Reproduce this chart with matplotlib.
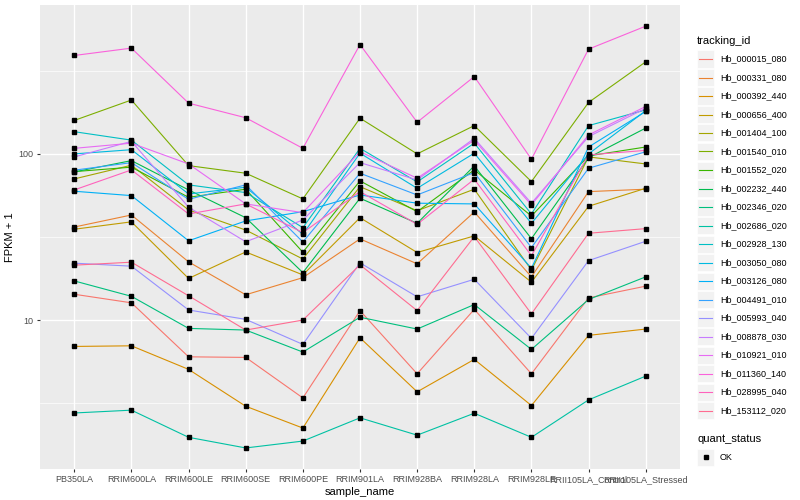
import numpy as np
import matplotlib
matplotlib.use("Agg")
import matplotlib.pyplot as plt
from matplotlib.ticker import FixedLocator, NullFormatter
from matplotlib.patches import Rectangle
from matplotlib.lines import Line2D

plt.rcParams['font.family'] = ['Liberation Sans', 'DejaVu Sans']

samples = ['PB350LA', 'RRIM600LA', 'RRIM600LE', 'RRIM600SE', 'RRIM600PE',
           'RRIM901LA', 'RRIM928BA', 'RRIM928LA', 'RRIM928LE',
           'RRII105LA_Control', 'RRII105LA_Stressed']

tracking_ids = ['Hb_000015_080', 'Hb_000331_080', 'Hb_000392_440', 'Hb_000656_400',
                'Hb_001404_100', 'Hb_001540_010', 'Hb_001552_020', 'Hb_002232_440',
                'Hb_002346_020', 'Hb_002686_020', 'Hb_002928_130', 'Hb_003050_080',
                'Hb_003126_080', 'Hb_004491_010', 'Hb_005993_040', 'Hb_008878_030',
                'Hb_010921_010', 'Hb_011360_140', 'Hb_028995_040', 'Hb_153112_020']

# FPKM + 1, one row per tracking_id, one column per sample
fpkm = [
    [14.3, 12.7, 6.01, 5.96, 3.40, 11.4, 4.75, 11.6, 4.75, 13.6, 16.0],
    [36.3, 42.9, 22.4, 14.2, 18.0, 30.8, 21.8, 44.7, 18.2, 59.3, 61.3],
    [6.94, 7.00, 5.05, 3.03, 2.24, 7.82, 3.70, 5.80, 3.06, 8.09, 8.83],
    [35.2, 39.0, 17.8, 25.7, 18.7, 41.3, 25.5, 32.1, 16.9, 48.4, 62.1],
    [70.7, 85.5, 46.0, 34.8, 23.3, 63.5, 45.5, 61.3, 20.0, 95.9, 87.0],
    [159, 211, 85.0, 76.5, 53.6, 164, 100, 148, 68.1, 204, 358],
    [78.2, 83.2, 54.8, 61.3, 25.6, 68.8, 44.9, 80.1, 42.3, 97.3, 110],
    [77.9, 91.1, 60.7, 41.3, 19.3, 54.1, 38.2, 84.7, 30.9, 95.0, 143],
    [17.2, 13.9, 8.91, 8.71, 6.42, 10.4, 8.83, 12.4, 6.66, 13.3, 18.2],
    [2.76, 2.87, 1.97, 1.70, 1.87, 2.58, 2.03, 2.75, 1.97, 3.31, 4.60],
    [136, 121, 65.1, 58.5, 36.0, 108, 67.8, 116, 43.5, 148, 184],
    [100, 106, 57.4, 63.0, 32.8, 101, 62.1, 101, 38.2, 100, 182],
    [59.6, 56.1, 30.0, 39.5, 44.9, 56.6, 50.5, 50.0, 20.5, 110, 180],
    [79.8, 88.6, 53.3, 65.1, 29.5, 76.5, 56.6, 77.2, 27.3, 82.0, 103],
    [22.0, 21.1, 11.5, 10.1, 7.14, 22.1, 13.8, 17.6, 7.76, 22.8, 29.8],
    [95.9, 119, 47.8, 29.6, 40.0, 88.6, 69.7, 124, 50.5, 127, 188],
    [108, 116, 87.0, 50.0, 44.3, 103, 71.4, 121, 49.3, 130, 193],
    [391, 433, 202, 165, 108, 455, 155, 292, 92.9, 427, 587],
    [60.7, 80.1, 43.5, 50.0, 33.6, 59.3, 37.7, 70.4, 24.4, 98.6, 105],
    [21.4, 22.3, 14.0, 8.71, 10.0, 21.5, 11.4, 31.8, 10.9, 33.3, 35.5],
]

# ggplot default hue palette for 20 groups
colors = ['#F8766D', '#EA8331', '#D89000', '#C09B00', '#A3A500', '#7CAE00',
          '#39B600', '#00BB4E', '#00BF7D', '#00C1A3', '#00BFC4', '#00BAE0',
          '#00B0F6', '#35A2FF', '#9590FF', '#C77CFF', '#E76BF3', '#FA62DB',
          '#FF62BC', '#FF6C91']

W, H = 800, 500
fig = plt.figure(figsize=(8, 5), dpi=100)
ax = fig.add_axes([40 / W, 31 / H, 640 / W, 464 / H])
ax.set_facecolor('#EBEBEB')
for s in ax.spines.values():
    s.set_visible(False)

x = np.arange(len(samples))
for vals, c in zip(fpkm, colors):
    ax.plot(x, vals, color=c, lw=0.8, zorder=3)
for vals in fpkm:
    ax.plot(x, vals, ls='none', marker='s', ms=2.4, color='black', zorder=4)

ax.set_yscale('log')
ax.set_ylim(1.27, 787)
ax.set_xlim(-0.6, len(samples) - 0.4)
ax.yaxis.set_major_locator(FixedLocator([10, 100]))
ax.set_yticklabels(['10', '100'])
ax.yaxis.set_minor_locator(FixedLocator([10 ** 0.5, 10 ** 1.5, 10 ** 2.5]))
ax.yaxis.set_minor_formatter(NullFormatter())
ax.set_xticks(x)
ax.set_xticklabels(samples)

ax.grid(True, which='major', color='white', lw=1.0, zorder=1)
ax.grid(True, which='minor', axis='y', color='white', lw=0.5, zorder=1)
ax.set_axisbelow(True)
ax.tick_params(which='major', length=2.5, width=0.8, color='#333333',
               labelsize=6.5, labelcolor='#4D4D4D', pad=2)
ax.tick_params(which='minor', length=0)

ax.set_xlabel('sample_name', fontsize=8, labelpad=2)
ax.set_ylabel('FPKM + 1', fontsize=8, labelpad=3)


def fx(px):
    return px / W


def fy(py):
    return 1 - py / H


# legend drawn by hand, ggplot style
fig.text(fx(697), fy(41), 'tracking_id', fontsize=8, va='center', ha='left')
for i, (tid, c) in enumerate(zip(tracking_ids, colors)):
    yc = 59 + 18.5 * i
    fig.add_artist(Rectangle((fx(697), fy(yc + 8.5)), 17 / W, 17 / H,
                             transform=fig.transFigure, facecolor='#F2F2F2',
                             edgecolor='white', lw=0.5))
    fig.add_artist(Line2D([fx(699), fx(712)], [fy(yc), fy(yc)],
                          transform=fig.transFigure, color=c, lw=0.8))
    fig.text(fx(720), fy(yc), tid, fontsize=6.5, va='center', ha='left')

fig.text(fx(697), fy(439), 'quant_status', fontsize=8, va='center', ha='left')
fig.add_artist(Rectangle((fx(697), fy(457 + 8.5)), 17 / W, 17 / H,
                         transform=fig.transFigure, facecolor='#F2F2F2',
                         edgecolor='white', lw=0.5))
fig.add_artist(Line2D([fx(705.5)], [fy(457)], transform=fig.transFigure,
                      ls='none', marker='s', ms=2.4, color='black'))
fig.text(fx(720), fy(457), 'OK', fontsize=6.5, va='center', ha='left')

fig.savefig('out.png', dpi=100)
